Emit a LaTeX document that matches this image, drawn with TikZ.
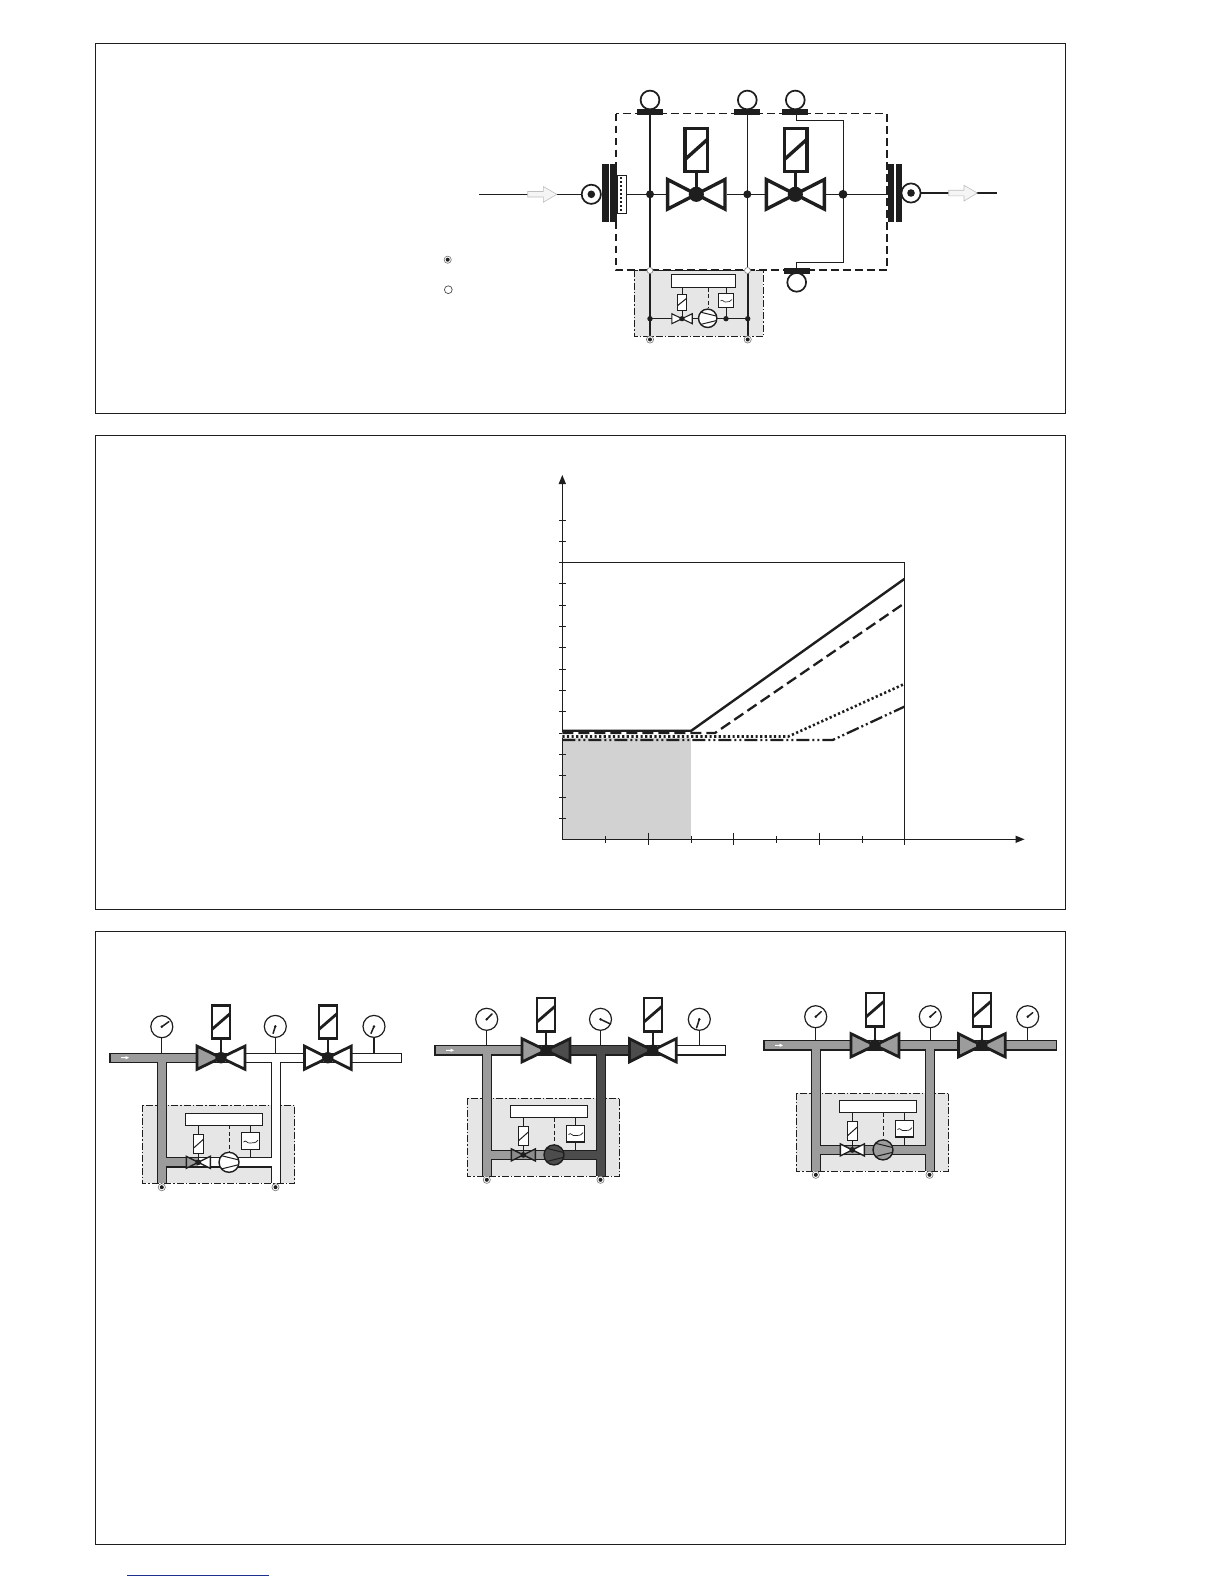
\documentclass[tikz,border=0pt]{standalone}
\definecolor{ink}{HTML}{1E1E1E}
\definecolor{boxgrey}{HTML}{E6E6E6}
\definecolor{pipegrey}{HTML}{9C9C9C}
\definecolor{pipedark}{HTML}{4C4C4C}
\definecolor{smallgrey}{HTML}{8C8C8C}
\definecolor{chartgrey}{HTML}{D2D2D2}
\definecolor{linkblue}{HTML}{1F2F8F}
\tikzset{
  framebox/.style={draw=ink,line width=1.1pt},
  wire/.style={draw=ink,line width=1.2pt},
  fatwire/.style={draw=ink,line width=2.2pt},
  outline/.style={draw=ink,line width=1pt},
  ctrlbox/.style={draw=ink,fill=boxgrey,line width=.8pt,dash pattern=on 7pt off 2pt on 1.5pt off 2pt},
  ctrldash/.style={draw=ink,line width=.9pt,dash pattern=on 4pt off 2.5pt},
  tick/.style={draw=ink,line width=1pt},
  flowarrow/.style={draw=black!25,fill=black!4,line width=.6pt},
  curve/.style={draw=ink,line width=2.3pt},
}
% valve: x y halfwidth halfheight leftcolour rightcolour linewidth
\newcommand{\vlv}[7]{%
  \draw[draw=ink,line width=#7,fill=#5,line join=miter,miter limit=2] (#1,#2) -- ({#1-#3},{#2-#4}) -- ({#1-#3},{#2+#4}) -- cycle;
  \draw[draw=ink,line width=#7,fill=#6,line join=miter,miter limit=2] (#1,#2) -- ({#1+#3},{#2-#4}) -- ({#1+#3},{#2+#4}) -- cycle;}
% solenoid: x0 y0 x1 y1 linewidth
\newcommand{\solbox}[5]{%
  \draw[draw=ink,line width=#5,fill=white] (#1,#2) rectangle (#3,#4);
  \draw[draw=ink,line width=#5] (#1,{#4-.28*(#4-#2)}) -- (#3,{#2+.25*(#4-#2)});}
% pump: x y r fill
\newcommand{\pumpsym}[4]{%
  \draw[draw=ink,line width=1.4pt,fill=#4] (#1,#2) circle (#3);
  \draw[draw=ink,line width=1pt] ({#1-.75*#3},{#2-.66*#3}) -- ({#1+.97*#3},{#2-.24*#3});
  \draw[draw=ink,line width=1pt] ({#1-.75*#3},{#2+.66*#3}) -- ({#1+.97*#3},{#2+.24*#3});}
% connection point
\newcommand{\tgt}[2]{%
  \draw[draw=black!55,fill=white,line width=.6pt] (#1,#2) circle (3.6);
  \fill[ink] (#1,#2) circle (2);}
% gauge: x y pipey needledx needledy
\newcommand{\gaugeat}[5]{%
  \draw[draw=ink,line width=1.1pt] (#1,{#2+11}) -- (#1,#3);
  \draw[draw=ink,line width=1.2pt,fill=white] (#1,#2) circle (11);
  \fill[ink] (#1,#2) circle (1.4);
  \draw[draw=ink,line width=1.5pt,line cap=round] (#1,#2) -- ({#1+#4},{#2+#5});}
% one plant of the lower panel: dx dy left mid right svL svR pump link
\newcommand{\plantrow}[9]{%
\begin{scope}[shift={(#1,#2)}]
  \draw[ctrlbox] (142.3,1105.3) rectangle (294.7,1183.3);
  \draw[draw=ink,line width=10.4pt] (109.3,1057.7) -- (\pipeend,1057.7);
  \draw[draw=ink,line width=10.4pt] (161.8,1057.7) -- (161.8,1183.3);
  \draw[draw=ink,line width=10.4pt] (275.7,1057.7) -- (275.7,1183.3);
  \draw[draw=ink,line width=10.4pt] (161.8,1162.3) -- (275.7,1162.3);
  \draw[draw=#3,line width=7.8pt] (110.5,1057.7) -- (221,1057.7);
  \draw[draw=#4,line width=7.8pt] (221,1057.7) -- (327.7,1057.7);
  \draw[draw=#5,line width=7.8pt] (327.7,1057.7) -- ({\pipeend-1.2},1057.7);
  \draw[draw=#3,line width=7.8pt] (161.8,1057.7) -- (161.8,1183.3);
  \draw[draw=#4,line width=7.8pt] (275.7,1057.7) -- (275.7,1183.3);
  \draw[draw=#3,line width=7.8pt] (161.8,1162.3) -- (198.3,1162.3);
  \draw[draw=#9,line width=7.8pt] (198.3,1162.3) -- (229,1162.3);
  \draw[draw=#4,line width=7.8pt] (229,1162.3) -- (275.7,1162.3);
  \fill[white] (121,1057.2) -- (125.5,1057.2) -- (125.5,1056) -- (129,1057.7) -- (125.5,1059.4) -- (125.5,1058.2) -- (121,1058.2) -- cycle;
  % main valves
  \draw[draw=ink,line width=2.8pt] (221,1057.7) -- (221,1040);
  \draw[draw=ink,line width=2.8pt] (328,1057.7) -- (328,1040);
  \vlv{221}{1057.7}{24}{11.6}{#3}{#4}{2.8pt}
  \vlv{327.8}{1057.7}{23.4}{11.6}{#4}{#5}{2.8pt}
  \fill[ink] (221,1057.7) circle (5.7);
  \fill[ink] (327.8,1057.7) circle (5.7);
  \solbox{212}{1005.4}{230}{1038.6}{2.8pt}
  \solbox{319}{1005.4}{337}{1038.6}{2.8pt}
  % control unit
  \draw[outline,fill=white] (185.3,1113.3) rectangle (262.7,1125.3);
  \draw[ctrldash] (229.3,1125.3) -- (229.3,1152);
  \draw[outline] (198.5,1125.3) -- (198.5,1134.3);
  \draw[outline] (198.5,1153.3) -- (198.5,1162.3);
  \draw[outline] (250.4,1125.3) -- (250.4,1132.7);
  \draw[outline] (250.4,1149.3) -- (250.4,1157);
  \solbox{193.7}{1134.3}{203.7}{1153.3}{1pt}
  \draw[draw=ink,line width=1.3pt,fill=white] (241.3,1132.7) rectangle (259.7,1149.3);
  \draw[draw=ink,line width=.7pt] (243.5,1142) .. controls (246,1139) and (247,1144) .. (250.5,1143) .. controls (254,1142) and (255,1144) .. (258,1140);
  \vlv{198.3}{1162.3}{12}{6}{#6}{#7}{1.4pt}
  \fill[ink] (198.3,1162.3) circle (2.9);
  \pumpsym{229}{1162.3}{10}{#8}
  \tgt{161.8}{1187.2}
  \tgt{275.5}{1187.2}
\end{scope}}
\begin{document}
\begin{tikzpicture}[x=1pt,y=-1pt]
\useasboundingbox (0,0) rectangle (1224,1584);
\fill[white] (0,0) rectangle (1224,1584);
% ---------- panel frames
\draw[framebox] (95.3,43.3) rectangle (1065.3,413.3);
\draw[framebox] (95.3,435.3) rectangle (1065.3,909.3);
\draw[framebox] (95.3,931.3) rectangle (1065.3,1544.3);
\draw[draw=linkblue,line width=1.2pt] (127,1575.3) -- (268.7,1575.3);
% ---------- panel 1: gas train
\draw[ctrlbox] (634.3,270) rectangle (763.4,336.3);
\draw[draw=ink,line width=1.6pt,dash pattern=on 7.5pt off 4.5pt] (615.7,113.7) rectangle (887,270);
\draw[wire] (479.3,194.3) -- (581,194.3);
\draw[wire] (626.7,194.3) -- (666,194.3);
\draw[wire] (726.7,194.3) -- (764.7,194.3);
\draw[wire] (826,194.3) -- (888,194.3);
\draw[fatwire] (921,193) -- (996.7,193);
\draw[flowarrow] (527.7,191.5) -- (543.3,191.5) -- (543.3,186.5) -- (556.7,194.3) -- (543.3,202.3) -- (543.3,197) -- (527.7,197) -- cycle;
\draw[flowarrow] (948.7,190.2) -- (964,190.2) -- (964,185.3) -- (977.3,193) -- (964,201) -- (964,195.8) -- (948.7,195.8) -- cycle;
% ports
\draw[draw=ink,line width=1.7pt,fill=white] (591.3,194.3) circle (9.6);
\fill[ink] (591.3,194.3) circle (3.8);
\draw[draw=ink,line width=1.7pt,fill=white] (911,193) circle (9.6);
\fill[ink] (911,193) circle (3.8);
\fill[ink] (602,164) rectangle (609,221.7);
\fill[ink] (610,164) rectangle (616.7,221.7);
\fill[ink] (887.7,164) rectangle (894.3,221.7);
\fill[ink] (896,164) rectangle (902,221.7);
\draw[draw=ink,line width=1.1pt,fill=white] (617,175.3) rectangle (626.7,213.3);
\draw[draw=ink,line width=1.5pt,dash pattern=on 1.8pt off 2.2pt] (621,177) -- (621,212);
% vertical tap lines
\draw[draw=ink,line width=1.8pt] (650,113) -- (650,340);
\draw[draw=ink,line width=1.1pt] (747.3,113) -- (747.3,270);
\draw[draw=ink,line width=2pt] (747.7,270) -- (747.7,340);
\draw[draw=ink,line width=1.2pt] (796.3,113) -- (796.3,120.7) -- (843.7,120.7) -- (843.7,262.3) -- (796.3,262.3) -- (796.3,270);
% pressure switches
\foreach \px/\pl/\pr in {650/637/663,747.3/734/760,795.3/781.7/808.3}{
  \draw[draw=ink,line width=1.7pt] (\px,100) circle (9.4);
  \fill[ink] (\pl,109) rectangle (\pr,114.7);
}
\draw[draw=ink,line width=1.7pt] (796.7,282.3) circle (9.4);
\fill[ink] (784,268) rectangle (810,273.7);
% main valves
\draw[draw=ink,line width=3.2pt] (696.3,194.3) -- (696.3,173);
\draw[draw=ink,line width=3.2pt] (795.3,194.3) -- (795.3,173);
\vlv{696.3}{194.3}{28.7}{14.8}{white}{white}{3.4pt}
\vlv{795.3}{194.3}{29}{14.8}{white}{white}{3.4pt}
\fill[ink] (696.3,194.3) circle (7.6);
\fill[ink] (795.3,194.3) circle (7.6);
\solbox{685}{128.4}{707.6}{171.6}{3.4pt}
\solbox{784.4}{128.4}{807}{171.6}{3.4pt}
\fill[ink] (650,194.3) circle (4);
\fill[ink] (747.3,194.3) circle (4);
\fill[ink] (843,194.3) circle (4.4);
% control unit of panel 1
\draw[wire] (650,318.7) -- (747.7,318.7);
\draw[outline,fill=white] (671.3,274.3) rectangle (735.7,287.7);
\draw[ctrldash] (708.3,287.7) -- (708.3,308);
\draw[outline] (682,287.7) -- (682,318.7);
\draw[outline] (726,287.7) -- (726,318.7);
\solbox{677.3}{294.3}{686.7}{310.3}{1pt}
\draw[draw=ink,line width=1.1pt,fill=white] (718.7,293.3) rectangle (733.7,307.7);
\draw[draw=ink,line width=.6pt] (720.5,301) .. controls (722.5,298.5) and (724,303) .. (726,302) .. controls (729,301) and (730,302.5) .. (732,299.5);
\vlv{682}{318.7}{10.2}{5}{white}{white}{1.1pt}
\fill[ink] (682,318.7) circle (2.6);
\pumpsym{707.7}{318.3}{9.2}{white}
\fill[ink] (650,318.7) circle (2.7);
\fill[ink] (747.7,318.7) circle (2.7);
\fill[ink] (726,318.7) circle (2.7);
\draw[draw=black!45,fill=white,line width=.7pt] (650,270.5) circle (3);
\draw[draw=black!45,fill=white,line width=.7pt] (747.5,270.5) circle (3);
\tgt{650}{339.5}
\tgt{747.7}{339.5}
\tgt{447.7}{259.7}
\draw[draw=black!70,fill=white,line width=.7pt] (448.3,289.7) circle (3.9);
% ---------- panel 2: chart
\fill[chartgrey] (562.3,730) rectangle (691.3,839.3);
\foreach \ty in {520.3,541.3,562.3,583.3,605.3,626.3,647.3,669.3,690.3,711.3,733.3,754.3,775.3,797.3,818.3}{
  \draw[tick] (559.3,\ty) -- (566,\ty);
}
\foreach \tx in {605.3,691.3,776.3,862.3}{
  \draw[tick] (\tx,836) -- (\tx,842.7);
}
\foreach \tx in {648.3,733.3,819.3,904.3}{
  \draw[tick] (\tx,832.7) -- (\tx,845);
}
\draw[draw=ink,line width=1.2pt] (562.3,839.3) -- (562.3,482);
\fill[ink] (562.3,475) -- (566,484) -- (558.6,484) -- cycle;
\draw[draw=ink,line width=1.2pt] (562.3,839.3) -- (1016,839.3);
\fill[ink] (1024.5,839.3) -- (1015.5,835.6) -- (1015.5,843) -- cycle;
\draw[draw=ink,line width=1.1pt] (562.3,562.3) -- (904.3,562.3) -- (904.3,839.3);
\draw[draw=white,line width=3pt] (562.3,733) -- (700,733);
\draw[draw=white,line width=3pt] (562.3,736.6) -- (700,736.6);
\draw[curve,line width=2.4pt] (562.3,730.7) -- (691.3,730.7) -- (904.3,579);
\draw[curve,dash pattern=on 11pt off 5pt] (562.3,733) -- (715,733) -- (904.3,603.3);
\draw[curve,line width=2.6pt,dash pattern=on 2.2pt off 2.4pt] (562.3,736.5) -- (788.3,736.5) -- (904.3,684);
\draw[curve,dash pattern=on 13pt off 3pt on 2pt off 3pt on 2pt off 3pt] (562.3,740) -- (832.7,740) -- (904.3,706.7);
% ---------- panel 3: three operating states
\def\pipeend{402}
\plantrow{0}{0}{pipegrey}{white}{white}{pipegrey}{white}{white}{white}
\gaugeat{161.8}{1026.7}{1053}{7}{-5}
\gaugeat{275.3}{1026.4}{1053}{-2.2}{7}
\gaugeat{374}{1026.4}{1053}{-3}{7}
\def\pipeend{401}
\plantrow{325}{-7.4}{pipegrey}{pipedark}{white}{smallgrey}{smallgrey}{pipedark}{pipegrey}
\gaugeat{486.7}{1019.3}{1046}{5.5}{-5.5}
\gaugeat{600.5}{1019.3}{1046}{9.5}{4.5}
\gaugeat{699.3}{1019.3}{1046}{-2.7}{8.5}
\def\pipeend{403}
\plantrow{654}{-12.4}{pipegrey}{pipegrey}{pipegrey}{white}{white}{pipegrey}{pipegrey}
\gaugeat{815.7}{1016.7}{1041}{5.5}{-5}
\gaugeat{930.3}{1016.7}{1041}{5.5}{-5}
\gaugeat{1027.7}{1016.7}{1041}{5}{-4}
\end{tikzpicture}
\end{document}
